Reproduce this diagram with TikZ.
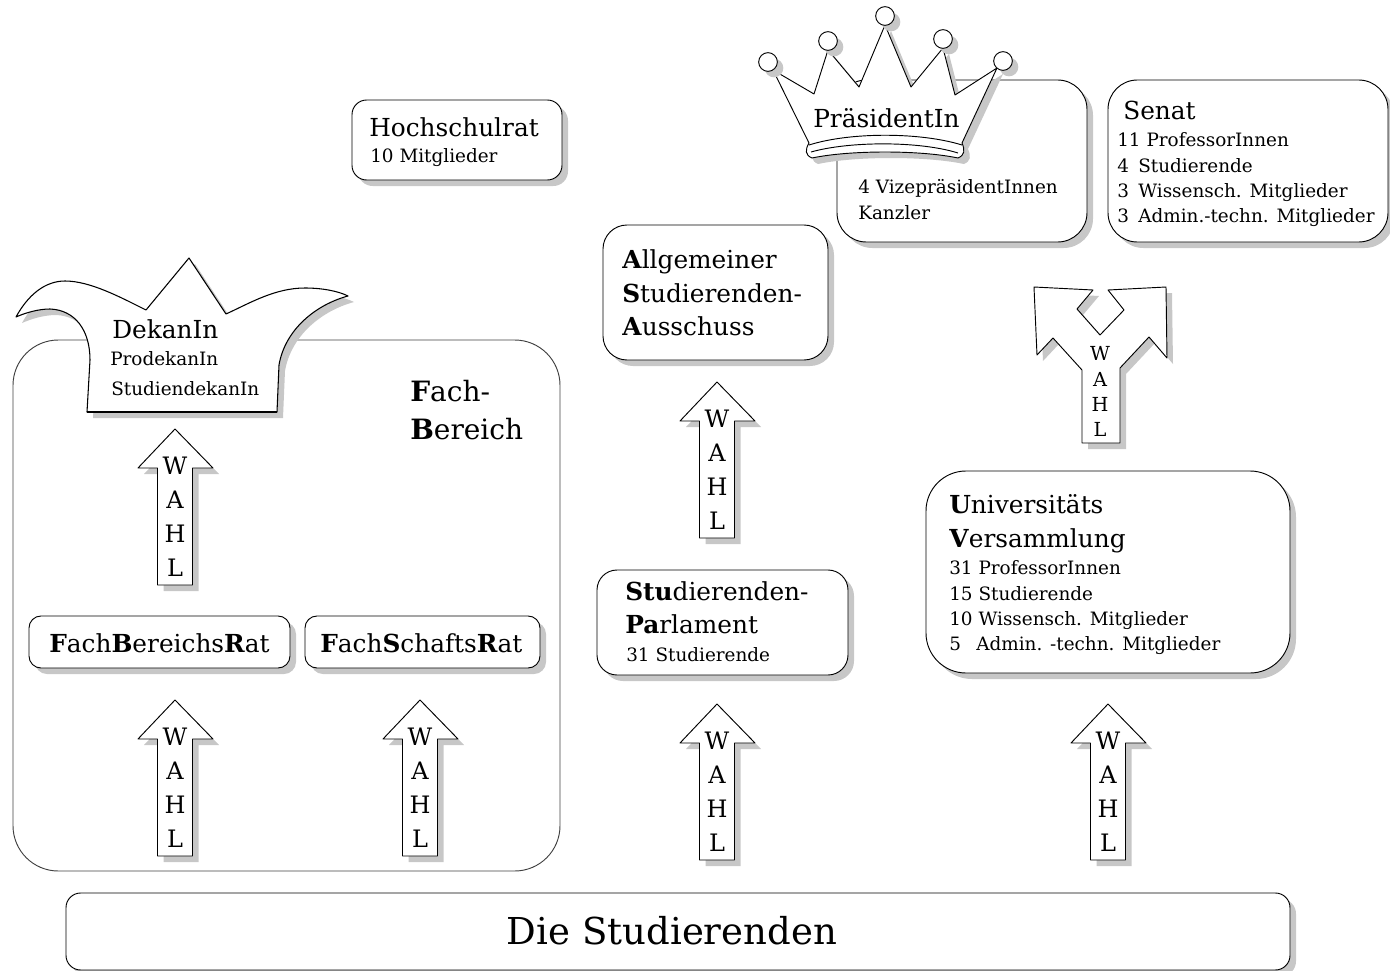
\documentclass[tikz,border=0pt]{standalone}
\usepackage{fontspec}
\setmainfont{DejaVu Serif}
\usetikzlibrary{shadows}

\tikzset{
  schatten/.style={drop shadow={shadow xshift=4.5pt, shadow yshift=-4.5pt, fill=black!22, opacity=1}},
  kasten/.style={draw, fill=white, line width=0.7pt, rounded corners=#1, schatten},
  umriss/.style={draw, fill=white, line width=0.7pt, line join=round, schatten},
  gross/.style={anchor=base west, inner sep=0pt, yshift=-0.75pt, font=\fontsize{18.6}{20}\selectfont},
  klein/.style={anchor=base west, inner sep=0pt, yshift=-0.75pt, font=\fontsize{13.8}{16}\selectfont},
  wahltext/.style={inner sep=0pt, font=\fontsize{18}{20}\selectfont},
  ytext/.style={inner sep=0pt, font=\fontsize{14.5}{16}\selectfont},
  wahlpfeil/.pic={
    \draw[umriss] (0,0) -- (38,39) -- (17.5,39) -- (17.5,156) -- (-17.5,156)
      -- (-17.5,39) -- (-37,39) -- cycle;
    \node[wahltext] (-w) at (0,37) {W};
    \node[wahltext] (-a) at (0,71) {A};
    \node[wahltext] (-h) at (0,105) {H};
    \node[wahltext] (-l) at (0,139) {L};
  }
}

\begin{document}
\begin{tikzpicture}[x=0.75pt, y=-0.75pt]
  \useasboundingbox (0,0) rectangle (1390,971);

  % Fachbereich
  \draw[line width=0.7pt, black!75, rounded corners=34pt] (13,340) rectangle (560,871);
  \draw[kasten=9pt] (29,616) rectangle (290,668);
  \draw[kasten=9pt] (305,616) rectangle (540,668);

  % Kaesten
  \draw[kasten=11pt] (352,100) rectangle (562,180);
  \draw[kasten=22pt] (837,80) rectangle (1087,242);
  \draw[kasten=22pt] (1108,80) rectangle (1388,242);
  \draw[kasten=18pt] (603,225) rectangle (828,360);
  \draw[kasten=15pt] (597,570) rectangle (848,675);
  \draw[kasten=30pt] (926,471) rectangle (1290,673);
  \draw[kasten=11pt] (66,893) rectangle (1290,970);

  % Narrenkappe
  \path[umriss, line width=0.8pt] (16,317) .. controls (28,295) and (45,281) .. (65,281)
    .. controls (90,281) and (120,297) .. (146,310) -- (189,258) -- (226,314)
    .. controls (250,303) and (275,288) .. (305,288)
    .. controls (322,288) and (338,291) .. (348,296)
    .. controls (315,305) and (285,330) .. (279,365) -- (277,412) -- (87,412) -- (90,360)
    .. controls (90,330) and (75,310) .. (50,309)
    .. controls (38,309) and (25,313) .. (16,317) -- cycle;
  \draw[line width=1.4pt] (87,412) -- (277,412);

  % Krone
  \path[umriss] (773,70) -- (814,94) -- (828,50) -- (859,87) -- (885,25) -- (911,87)
    -- (943,48) -- (955,95) -- (997,68) -- (962,143)
    .. controls (965,150) and (965,155) .. (958,158)
    .. controls (920,150) and (850,150) .. (812,158)
    .. controls (805,155) and (805,150) .. (809,143) -- cycle;
  \draw[line width=0.7pt] (809,145) .. controls (850,132) and (920,132) .. (962,145);
  \draw[line width=0.7pt] (811,152) .. controls (850,141) and (920,141) .. (958,153);
  \foreach \nr/\px/\py in {1/768/62, 2/828/41, 3/885/16, 4/943/39, 5/1003/61}
    \draw[umriss] (\px,\py) circle (7pt);

  % Y-Pfeil
  \path[umriss] (1034,287) -- (1093,290) -- (1077,309) -- (1100,335) -- (1124,310)
    -- (1108,290) -- (1166,287) -- (1167,358) -- (1149,337) -- (1120,368) -- (1120,443)
    -- (1082,443) -- (1082,370) -- (1053,338) -- (1037,355) -- cycle;
  \node[ytext] (yw) at (1100,353) {W};
  \node[ytext] (ya) at (1100,379) {A};
  \node[ytext] (yh) at (1100,404) {H};
  \node[ytext] (yl) at (1100,429) {L};

  % Wahlpfeile
  \foreach \nr/\px/\py in {1/175/429, 2/175/700, 3/420/700, 4/717/382, 5/717/704, 6/1108/704}
    \pic (pfeil\nr) at (\px,\py) {wahlpfeil};

  % Texte
  \node[gross] (hsr) at (369,135) {Hochschulrat};
  \node[klein] (hsrm) at (370,161) {10 Mitglieder};

  \node[gross] (praes) at (813,126) {PräsidentIn};
  \node[klein] (vize) at (858,192) {4 VizepräsidentInnen};
  \node[klein] (kanz) at (858,218) {Kanzler};

  \node[gross] (senat) at (1123,118) {Senat};
  \node[klein] (sen1) at (1117,145) {11 ProfessorInnen};
  \node[klein] (sen2) at (1117,171) {4};
  \node[klein] (sen2t) at (1138,171) {Studierende};
  \node[klein] (sen3) at (1117,196) {3};
  \node[klein] (sen3t) at (1138,196) {Wissensch. Mitglieder};
  \node[klein] (sen4) at (1117,221) {3};
  \node[klein] (sen4t) at (1138,221) {Admin.-techn. Mitglieder};

  \node[gross] (asta1) at (622,267) {\textbf{A}llgemeiner};
  \node[gross] (asta2) at (622,301) {\textbf{S}tudierenden-};
  \node[gross] (asta3) at (622,334) {\textbf{A}usschuss};

  \node[gross] (sp1) at (625,599) {\textbf{Stu}dierenden-};
  \node[gross] (sp2) at (625,632) {\textbf{Pa}rlament};
  \node[klein] (sp3) at (626,660) {31 Studierende};

  \node[gross] (uv1) at (949,512) {\textbf{U}niversitäts};
  \node[gross] (uv2) at (949,546) {\textbf{V}ersammlung};
  \node[klein] (uv3) at (949,573) {31 ProfessorInnen};
  \node[klein] (uv4) at (949,599) {15 Studierende};
  \node[klein] (uv5) at (949,624) {10 Wissensch. Mitglieder};
  \node[klein] (uv6) at (949,649) {5};
  \node[klein] (uv6t) at (976,649) {Admin. -techn. Mitglieder};

  \node[gross, font=\fontsize{21}{23}\selectfont] (fb1) at (410,400) {\textbf{F}ach-};
  \node[gross, font=\fontsize{21}{23}\selectfont] (fb2) at (410,438) {\textbf{B}ereich};

  \node[gross] (fbr) at (49,651) {\textbf{F}ach\textbf{B}ereichs\textbf{R}at};
  \node[gross] (fsr) at (320,651) {\textbf{F}ach\textbf{S}chafts\textbf{R}at};

  \node[gross] (dek1) at (112,337) {DekanIn};
  \node[klein] (dek2) at (110,364) {ProdekanIn};
  \node[klein] (dek3) at (111,394) {StudiendekanIn};

  \node[inner sep=0pt, font=\fontsize{27.8}{30}\selectfont] (stud) at (672,931) {Die Studierenden};
\end{tikzpicture}
\end{document}
